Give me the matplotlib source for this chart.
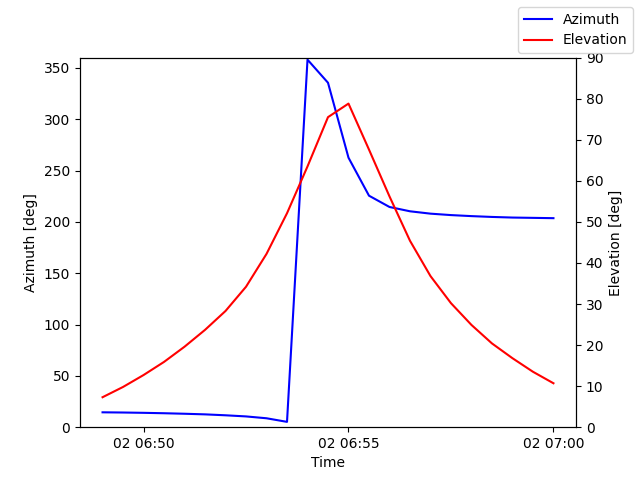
import matplotlib
matplotlib.use("Agg")
import matplotlib.pyplot as plt
import matplotlib.dates as mdates
import pandas as pd

times = pd.date_range("2024-01-02 06:49:00", "2024-01-02 07:00:00", freq="30s")
azimuth = [14.5, 14.3, 14.0, 13.6, 13.1, 12.5, 11.6, 10.5, 8.7, 5.2,
           358.0, 335.5, 262.5, 225.5, 214.5, 210.3, 208.0, 206.6, 205.6,
           204.8, 204.2, 203.9, 203.6]
elevation = [7.3, 9.8, 12.7, 15.9, 19.6, 23.7, 28.3, 34.2, 42.2, 52.1,
             63.5, 75.5, 78.8, 67.6, 56.2, 45.4, 36.8, 30.2, 24.9, 20.4,
             16.8, 13.5, 10.7]

fig, ax1 = plt.subplots(figsize=(6.4, 4.8), dpi=100)
l1, = ax1.plot(times, azimuth, color="blue", label="Azimuth")
ax1.set_ylim(0, 360)
ax1.set_ylabel("Azimuth [deg]")
ax1.set_xlabel("Time")
ax1.xaxis.set_major_locator(mdates.MinuteLocator(byminute=range(0, 60, 5)))
ax1.xaxis.set_major_formatter(mdates.DateFormatter("%d %H:%M"))

ax2 = ax1.twinx()
l2, = ax2.plot(times, elevation, color="red", label="Elevation")
ax2.set_ylim(0, 90)
ax2.set_ylabel("Elevation [deg]")

fig.legend(handles=[l1, l2], loc="upper right")
fig.savefig("out.png", dpi=100)
